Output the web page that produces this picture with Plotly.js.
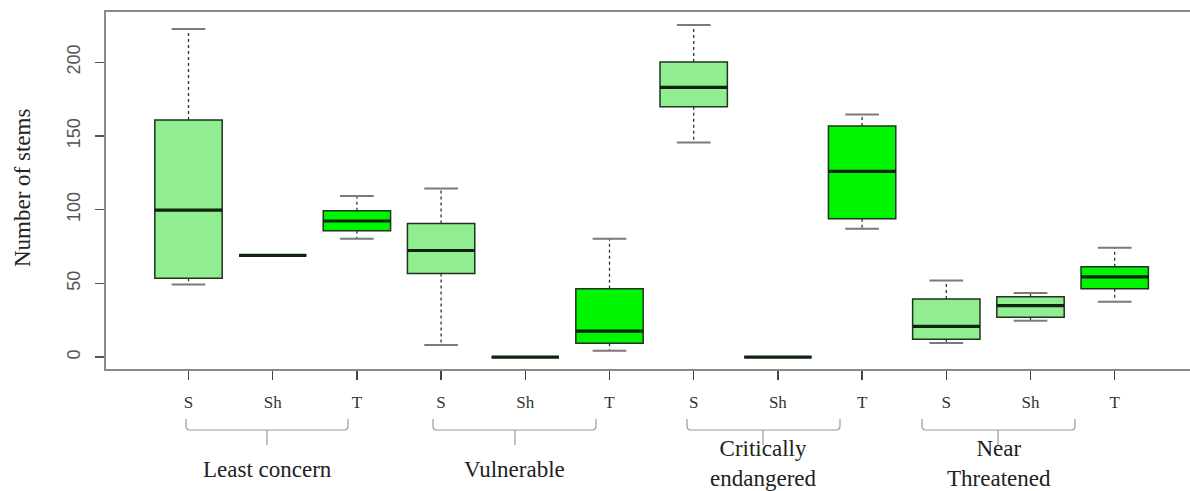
<!DOCTYPE html>
<html><head><meta charset="utf-8">
<script src="https://cdn.plot.ly/plotly-3.0.1.min.js"></script>
<style>html,body{margin:0;padding:0;background:#fff}#chart{width:1190px;height:491px}</style>
</head><body><div id="chart"></div>
<script>
// ---- data ----
const groups = ['Least concern', 'Vulnerable', 'Critically<br>endangered', 'Near<br>Threatened'];
const habits = ['S', 'Sh', 'T'];
const lowerWhisker = [49.3, 69, 80.3, 8.1, 0, 4.3, 145.6, 0, 87.1, 9.5, 24.6, 37.5];
const q1Values     = [53.4, 69, 85.7, 56.7, 0, 9.3, 169.8, 0, 93.9, 12.0, 27.0, 46.3];
const medianValues = [99.7, 69, 92.3, 72.3, 0, 17.6, 182.9, 0, 126.0, 20.8, 34.9, 54.4];
const q3Values     = [160.8, 69, 99.3, 90.6, 0, 46.3, 200.1, 0, 156.7, 39.4, 41.0, 61.3];
const upperWhisker = [222.5, 69, 109.2, 114.4, 0, 80.3, 225.2, 0, 164.6, 52.0, 43.4, 74.2];
const yTicks = [0, 50, 100, 150, 200];

// ---- derived ----
const n = q1Values.length;
const pos = q1Values.map((_, i) => i + 1);
const tickText = pos.map((_, i) => habits[i % 3]);
const isTree = pos.map((_, i) => habits[i % 3] === 'T');

function pick(arr, want) { return arr.filter((_, i) => isTree[i] === want); }

const boxW = 0.8, capHalf = 0.2, medHalf = 0.4;

function boxTrace(want, color) {
  const q1 = pick(q1Values, want), q3 = pick(q3Values, want);
  return {
    type: 'box', x: pick(pos, want),
    q1: q1, median: pick(medianValues, want), q3: q3,
    lowerfence: q1, upperfence: q3,
    width: boxW, whiskerwidth: 0,
    fillcolor: color, line: {color: '#1f331f', width: 1.5},
    boxpoints: false, hoverinfo: 'skip', showlegend: false
  };
}

const wx = [], wy = [], cx = [], cy = [], mx = [], my = [];
for (let i = 0; i < n; i++) {
  const x = pos[i];
  wx.push(x, x, null, x, x, null);
  wy.push(q3Values[i], upperWhisker[i], null, q1Values[i], lowerWhisker[i], null);
  cx.push(x - capHalf, x + capHalf, null, x - capHalf, x + capHalf, null);
  cy.push(upperWhisker[i], upperWhisker[i], null, lowerWhisker[i], lowerWhisker[i], null);
  mx.push(x - medHalf, x + medHalf, null);
  my.push(medianValues[i], medianValues[i], null);
}

const traces = [
  boxTrace(false, '#90EE90'),
  boxTrace(true, '#00F500'),
  {type: 'scatter', mode: 'lines', x: wx, y: wy, line: {color: '#333', width: 1.3, dash: '3px,3px'}, hoverinfo: 'skip', showlegend: false},
  {type: 'scatter', mode: 'lines', x: cx, y: cy, line: {color: '#7a7a7a', width: 2}, hoverinfo: 'skip', showlegend: false},
  {type: 'scatter', mode: 'lines', x: mx, y: my, line: {color: '#0e240e', width: 3.2}, hoverinfo: 'skip', showlegend: false}
];

// ---- layout geometry (pixel-based) ----
const W = 1190, H = 491, ml = 106, mt = 12, mb = 122;
const pxPerX = 84.2, x1px = 188.5;
const xStart = 1 - (x1px - ml) / pxPerX;
const plotW = W - ml;
const xEnd = xStart + plotW / pxPerX;
const plotH = H - mt - mb;
const px2x = px => 1 + (px - x1px) / pxPerX;
const py2p = py => (H - mb - py) / plotH;

// brackets drawn under the tick labels (left end, middle, right end in px)
const brackets = [[186, 267, 348], [433, 515, 596], [687, 763, 840], [922, 998, 1075]];
const labelCenters = [267, 514, 763, 999];
const labelY = [470, 470, 463, 463];
const yT = py2p(419), yH = py2p(430), yB = py2p(445), yC = py2p(426);
const shapes = brackets.map(b => {
  const l = px2x(b[0]), m = px2x(b[1]), r = px2x(b[2]), d = 4 / pxPerX;
  return {
    type: 'path', xref: 'x', yref: 'paper',
    path: `M${l},${yT} L${l},${yC} Q${l},${yH} ${l + d},${yH} L${r - d},${yH} Q${r},${yH} ${r},${yC} L${r},${yT} M${m},${yH} L${m},${yB}`,
    line: {color: '#9a9a9a', width: 1.2}
  };
});

const annotations = groups.map((g, i) => ({
  text: g, xref: 'x', yref: 'paper', x: px2x(labelCenters[i]), y: py2p(labelY[i]),
  xanchor: 'center', yanchor: 'middle', showarrow: false,
  font: {family: 'Liberation Serif, Times New Roman, serif', size: 23, color: '#222'}
}));
annotations.push({
  text: 'Number of stems', xref: 'paper', yref: 'paper',
  x: (22 - ml) / plotW, y: py2p(188), textangle: -90,
  xanchor: 'center', yanchor: 'middle', showarrow: false,
  font: {family: 'Liberation Serif, Times New Roman, serif', size: 23, color: '#222'}
});

const layout = {
  width: W, height: H,
  margin: {l: ml, r: 0, t: mt, b: mb},
  paper_bgcolor: '#fff', plot_bgcolor: '#fff',
  boxmode: 'overlay', showlegend: false,
  xaxis: {
    range: [xStart, xEnd], tickvals: pos, ticktext: tickText,
    ticks: 'outside', ticklen: 9, tickwidth: 1.5, tickcolor: '#444',
    showgrid: false, zeroline: false, showline: true, linecolor: '#8a8a8a', linewidth: 2, mirror: true,
    tickfont: {family: 'Liberation Serif, Times New Roman, serif', size: 17, color: '#333'},
    ticklabelstandoff: 8
  },
  yaxis: {
    range: [-8.1, 234.1], tickvals: yTicks, ticktext: yTicks.map(String),
    tickangle: -90,
    ticks: 'outside', ticklen: 9, tickwidth: 1.5, tickcolor: '#555',
    showgrid: false, zeroline: false, showline: true, linecolor: '#8a8a8a', linewidth: 2, mirror: true,
    tickfont: {family: 'Liberation Sans, Arial, sans-serif', size: 18, color: '#555'},
    ticklabelstandoff: 8
  },
  shapes: shapes,
  annotations: annotations
};

Plotly.newPlot('chart', traces, layout, {staticPlot: true, displayModeBar: false});
</script>
</body></html>
